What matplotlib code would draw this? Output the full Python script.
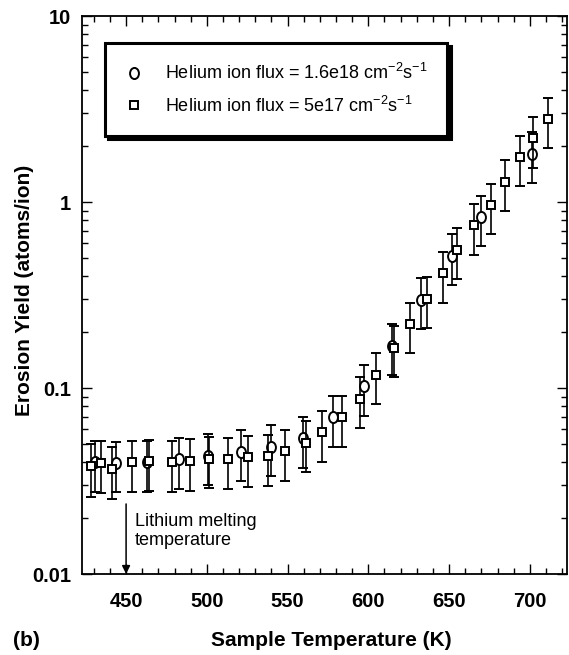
import matplotlib
matplotlib.use("Agg")
import matplotlib.pyplot as plt
from matplotlib.lines import Line2D
from matplotlib.path import Path
from matplotlib.transforms import Affine2D
from matplotlib.ticker import LogLocator, MultipleLocator, NullFormatter

plt.rcParams['font.family'] = ['Liberation Sans', 'DejaVu Sans']
plt.rcParams['mathtext.fontset'] = 'custom'
plt.rcParams['mathtext.rm'] = 'Liberation Sans'
plt.rcParams['mathtext.default'] = 'regular'

# ---- data ----
sq_T = [428.3, 434.2, 441.0, 453.4, 464.0, 478.2, 489.3, 501.5, 513.2, 525.7,
        537.8, 548.2, 561.1, 571.3, 583.7, 595.0, 604.5, 615.8, 625.5, 636.3,
        646.3, 654.6, 665.4, 675.8, 684.6, 693.9, 701.8, 711.3]
sq_Y = [0.0379, 0.0395, 0.0369, 0.0399, 0.0403, 0.0399, 0.0405, 0.0416, 0.0414, 0.0425,
        0.0429, 0.0458, 0.0508, 0.0578, 0.0697, 0.0875, 0.118, 0.165, 0.221, 0.302,
        0.414, 0.555, 0.748, 0.964, 1.288, 1.746, 2.20, 2.79]
sq_err = [0.0118, 0.0122, 0.0115, 0.0122, 0.0123, 0.0122, 0.0124, 0.0127, 0.0126, 0.0130,
          0.0131, 0.0140, 0.0155, 0.0177, 0.0213, 0.0267, 0.036, 0.050, 0.067, 0.092,
          0.126, 0.17, 0.23, 0.29, 0.39, 0.53, 0.67, 0.85]

ci_T = [430.6, 443.7, 462.9, 482.7, 500.8, 520.9, 539.7, 559.3, 578.0, 597.2,
        614.6, 632.7, 652.1, 669.5, 701.6]
ci_Y = [0.0399, 0.0395, 0.0399, 0.0414, 0.0432, 0.0454, 0.0483, 0.0536, 0.0697, 0.102,
        0.169, 0.299, 0.514, 0.830, 1.82]
ci_err = [0.0122, 0.0120, 0.0122, 0.0126, 0.0132, 0.0138, 0.0147, 0.0163, 0.0213, 0.031,
          0.052, 0.091, 0.157, 0.253, 0.55]

x_ticks = [450, 500, 550, 600, 650, 700]
y_ticks = [0.01, 0.1, 1, 10]
y_tick_labels = ['0.01', '0.1', '1', '10']

label_circ = 'Helium ion flux = 1.6e18 cm$^{-2}$s$^{-1}$'
label_sq = 'Helium ion flux = 5e17 cm$^{-2}$s$^{-1}$'
melt_T = 450
melt_text = 'Lithium melting\ntemperature'

# ---- figure ----
W, H = 569, 655
fig = plt.figure(figsize=(W / 100, H / 100), dpi=100)
ax = fig.add_axes([82 / W, 81 / H, 485 / W, 558 / H])

ellipse = Path(Affine2D().scale(0.8, 1.0).transform(Path.unit_circle().vertices),
               Path.unit_circle().codes)

common = dict(ls='none', ecolor='black', elinewidth=1.2, capsize=3.8, capthick=1.8,
              mec='black', mfc='white', mew=1.4)
ax.errorbar(ci_T, ci_Y, yerr=ci_err, marker=ellipse, ms=8.0, zorder=3, **common)
ax.errorbar(sq_T, sq_Y, yerr=sq_err, marker='s', ms=6.3, zorder=4, **common)

ax.set_yscale('log')
ax.set_xlim(422.7, 723)
ax.set_ylim(0.01, 10)

ax.set_xticks(x_ticks)
ax.set_xticklabels([str(t) for t in x_ticks])
ax.xaxis.set_minor_locator(MultipleLocator(10))
ax.set_yticks(y_ticks)
ax.set_yticklabels(y_tick_labels)
ax.yaxis.set_minor_locator(LogLocator(base=10, subs=range(2, 10), numticks=20))
ax.yaxis.set_minor_formatter(NullFormatter())

ax.tick_params(which='both', direction='in', top=True, right=True, width=1.0, color='black')
ax.tick_params(which='major', length=7.5)
ax.tick_params(which='minor', length=4.3)
ax.tick_params(axis='x', which='major', pad=13, labelsize=14.5)
ax.tick_params(axis='y', which='major', pad=8, labelsize=14.5)
for lab in ax.get_xticklabels() + ax.get_yticklabels():
    lab.set_fontweight('bold')
for s in ax.spines.values():
    s.set_linewidth(1.3)

ax.set_xlabel('Sample Temperature (K)', fontsize=15, fontweight='bold', va='center')
ax.xaxis.set_label_coords((331 - 82) / 485, (574 - 641) / 558)
ax.set_ylabel('Erosion Yield (atoms/ion)', fontsize=15, fontweight='bold', va='center')
ax.yaxis.set_label_coords((25 - 82) / 485, (574 - 290) / 558)

fig.text(26 / W, 1 - 640 / H, '(b)', fontsize=15, fontweight='bold', ha='center', va='center')

# melting arrow
ax.annotate('', xy=(melt_T, 0.01), xytext=(melt_T, 0.0238),
            arrowprops=dict(arrowstyle='-|>', color='black', lw=1.1,
                            mutation_scale=12, shrinkA=0, shrinkB=0))
ax.text(melt_T + 5.5, 0.0212, melt_text, fontsize=13, va='top', ha='left',
        linespacing=1.15)

# legend
h1 = Line2D([], [], ls='none', marker=ellipse, ms=8.0, mfc='white', mec='black', mew=1.4)
h2 = Line2D([], [], ls='none', marker='s', ms=6.3, mfc='white', mec='black', mew=1.4)
leg = ax.legend([h1, h2], [label_circ, label_sq], loc='upper left',
                bbox_to_anchor=((105 - 82) / 485, (574 - 43) / 558),
                borderaxespad=0, fontsize=13, frameon=True, fancybox=False,
                handlelength=1.0, handletextpad=1.2, borderpad=1.1, labelspacing=0.7,
                shadow={'color': 'black', 'alpha': 1, 'ox': 2.5, 'oy': -2.5})
fr = leg.get_frame()
fr.set_edgecolor('black')
fr.set_linewidth(2.2)
fr.set_alpha(1)

fig.savefig('out.png', dpi=100)
